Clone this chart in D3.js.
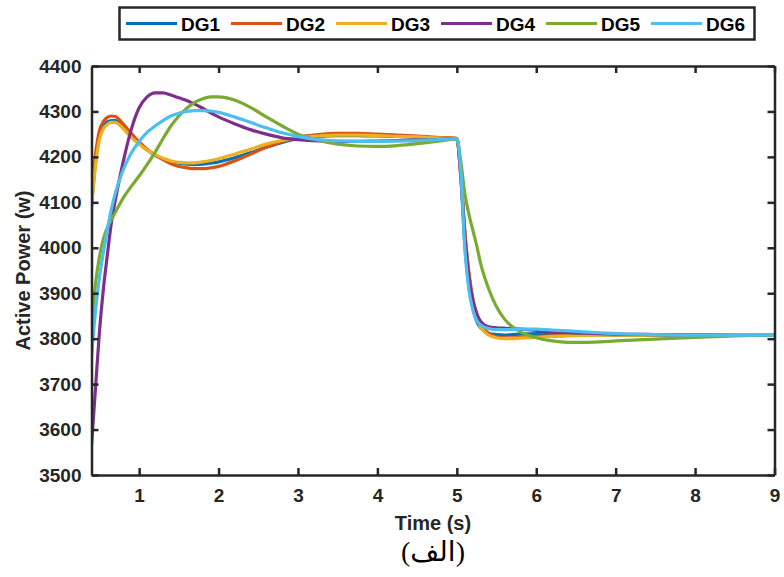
<!DOCTYPE html>
<html>
<head>
<meta charset="utf-8">
<script src="https://cdn.jsdelivr.net/npm/d3@7"></script>
<style>
  body { margin: 0; background: #fff; }
  svg { display: block; }
</style>
</head>
<body>
<div id="mainDiv"></div>
<script>
'use strict';

// time samples (s)
var time = [0.4, 0.45, 0.5, 0.55, 0.6, 0.65, 0.7, 0.8, 0.9, 1.0, 1.1, 1.2, 1.3, 1.4, 1.5, 1.6, 1.7, 1.8, 1.9, 2.0,
            2.2, 2.4, 2.6, 2.8, 3.0, 3.25, 3.5, 3.75, 4.0, 4.25, 4.5, 4.75, 5.0,
            5.05, 5.1, 5.15, 5.2, 5.25, 5.3, 5.4, 5.5, 5.6, 5.7, 5.8, 6.0, 6.2, 6.4, 6.6, 6.8, 7.0, 7.5, 8.0, 8.5, 9.0];

var dg1 = [4090, 4188, 4245, 4268, 4277, 4280, 4280, 4266, 4247, 4230, 4215, 4204, 4196, 4190, 4186, 4184, 4183, 4184, 4186, 4189,
           4198, 4209, 4221, 4232, 4240, 4245, 4247, 4247, 4246, 4245, 4243, 4242, 4240,
           4155, 4010, 3920, 3868, 3838, 3824, 3812, 3809, 3808, 3809, 3810, 3811, 3811, 3810, 3809, 3809, 3808, 3808, 3808, 3808, 3808];

var dg2 = [4115, 4205, 4258, 4278, 4287, 4290, 4289, 4272, 4252, 4233, 4217, 4204, 4194, 4185, 4179, 4176, 4174, 4174, 4176, 4179,
           4191, 4206, 4221, 4234, 4243, 4249, 4252, 4252, 4250, 4248, 4246, 4243, 4241,
           4165, 4040, 3950, 3890, 3855, 3832, 3812, 3804, 3802, 3802, 3803, 3805, 3806, 3807, 3808, 3809, 3809, 3809, 3808, 3808, 3808];

var dg3 = [4088, 4180, 4238, 4262, 4272, 4276, 4276, 4262, 4243, 4228, 4215, 4205, 4197, 4191, 4188, 4187, 4187, 4189, 4192, 4196,
           4206, 4217, 4228, 4236, 4242, 4246, 4248, 4248, 4247, 4245, 4244, 4242, 4240,
           4160, 4030, 3940, 3880, 3845, 3825, 3808, 3802, 3800, 3800, 3801, 3803, 3805, 3806, 3807, 3808, 3808, 3808, 3808, 3808, 3808];

var dg4 = [3565, 3690, 3815, 3910, 3985, 4055, 4105, 4190, 4260, 4308, 4332, 4341, 4341, 4336, 4330, 4324, 4316, 4307, 4297, 4288,
           4273, 4260, 4250, 4242, 4238, 4235, 4234, 4234, 4235, 4236, 4237, 4238, 4240,
           4160, 4030, 3940, 3885, 3855, 3838, 3826, 3824, 3823, 3822, 3821, 3818, 3815, 3813, 3812, 3811, 3810, 3809, 3808, 3807, 3807];

var dg5 = [3815, 3920, 3980, 4020, 4045, 4062, 4078, 4110, 4135, 4158, 4183, 4210, 4240, 4268, 4290, 4307, 4320, 4328, 4332, 4332,
           4325, 4309, 4288, 4268, 4250, 4237, 4228, 4224, 4223, 4225, 4229, 4234, 4239,
           4190, 4120, 4075, 4040, 4005, 3965, 3910, 3870, 3843, 3826, 3815, 3802, 3795, 3792, 3792, 3793, 3795, 3799, 3803, 3806, 3808];

var dg6 = [3760, 3860, 3935, 3990, 4040, 4085, 4120, 4172, 4208, 4234, 4254, 4268, 4280, 4290, 4296, 4300, 4302, 4302, 4301, 4298,
           4288, 4276, 4264, 4253, 4245, 4238, 4235, 4234, 4234, 4235, 4236, 4238, 4240,
           4170, 4000, 3910, 3865, 3840, 3830, 3822, 3820, 3820, 3820, 3821, 3821, 3819, 3817, 3815, 3813, 3811, 3809, 3808, 3808, 3808];

var seriesNames = ['DG1', 'DG2', 'DG3', 'DG4', 'DG5', 'DG6'];
var seriesData  = [dg1, dg2, dg3, dg4, dg5, dg6];
var seriesColors = ['#0072BD', '#D95319', '#EDB120', '#7E2F8E', '#77AC30', '#4DBEEE'];

var xTicks = [1, 2, 3, 4, 5, 6, 7, 8, 9];
var yTicks = [3500, 3600, 3700, 3800, 3900, 4000, 4100, 4200, 4300, 4400];

var chart = {};

chart.box = { left: 91.5, right: 774.5, top: 66, bottom: 475 };
chart.axisColor = '#262626';
chart.font = "'Liberation Sans', Arial, Helvetica, sans-serif";

chart.run = function()
{
    var svg = d3.select('#mainDiv').append('svg')
        .attr('width', 784)
        .attr('height', 577);

    var b = chart.box;
    var x = d3.scaleLinear().domain([0.4, 9]).range([b.left, b.right]);
    var y = d3.scaleLinear().domain([3500, 4400]).range([b.bottom, b.top]);

    // lines
    var line = d3.line()
        .x(function(d) { return x(d[0]); })
        .y(function(d) { return y(d[1]); })
        .curve(d3.curveMonotoneX);

    var plot = svg.append('g');
    plot.append('clipPath').attr('id', 'clip')
        .append('rect')
        .attr('x', b.left).attr('y', b.top)
        .attr('width', b.right - b.left).attr('height', b.bottom - b.top);

    seriesData.forEach(function(vals, i) {
        var pts = time.map(function(t, k) { return [t, vals[k]]; });
        plot.append('path')
            .attr('clip-path', 'url(#clip)')
            .attr('d', line(pts))
            .attr('fill', 'none')
            .attr('stroke', seriesColors[i])
            .attr('stroke-width', 3.2)
            .attr('stroke-linejoin', 'round');
    });

    // axes: ticks pointing inward, box all round
    var tick = 7;
    var bottom = svg.append('g')
        .attr('transform', 'translate(0,' + b.bottom + ')')
        .call(d3.axisBottom(x).tickValues(xTicks).tickSizeInner(-tick).tickSizeOuter(0).tickPadding(14).tickFormat(d3.format('d')));
    var top = svg.append('g')
        .attr('transform', 'translate(0,' + b.top + ')')
        .call(d3.axisTop(x).tickValues(xTicks).tickSizeInner(-tick).tickSizeOuter(0).tickFormat(''));
    var left = svg.append('g')
        .attr('transform', 'translate(' + b.left + ',0)')
        .call(d3.axisLeft(y).tickValues(yTicks).tickSizeInner(-tick).tickSizeOuter(0).tickPadding(10).tickFormat(d3.format('d')));
    var right = svg.append('g')
        .attr('transform', 'translate(' + b.right + ',0)')
        .call(d3.axisRight(y).tickValues(yTicks).tickSizeInner(-tick).tickSizeOuter(0).tickFormat(''));

    [bottom, top, left, right].forEach(function(g) {
        g.select('.domain').attr('stroke', chart.axisColor).attr('stroke-width', 2.5);
        g.selectAll('.tick line').attr('stroke', chart.axisColor).attr('stroke-width', 2.5);
        g.selectAll('.tick text')
            .attr('fill', chart.axisColor)
            .attr('font-family', chart.font)
            .attr('font-weight', 'bold')
            .attr('font-size', 19);
    });

    // axis titles
    svg.append('text')
        .attr('x', (b.left + b.right) / 2)
        .attr('y', 530)
        .attr('text-anchor', 'middle')
        .attr('font-family', chart.font)
        .attr('font-weight', 'bold')
        .attr('font-size', 20)
        .attr('fill', chart.axisColor)
        .text('Time (s)');

    svg.append('text')
        .attr('transform', 'translate(30,' + ((b.top + b.bottom) / 2) + ') rotate(-90)')
        .attr('text-anchor', 'middle')
        .attr('font-family', chart.font)
        .attr('font-weight', 'bold')
        .attr('font-size', 20)
        .attr('fill', chart.axisColor)
        .text('Active Power (w)');

    svg.append('text')
        .attr('x', (b.left + b.right) / 2)
        .attr('y', 561)
        .attr('text-anchor', 'middle')
        .attr('font-family', "'Liberation Serif', 'DejaVu Sans', serif")
        .attr('font-size', 28)
        .attr('fill', '#000')
        .text('(الف)');

    chart.legend(svg);
}

chart.legend = function(svg)
{
    var lg = svg.append('g');
    lg.append('rect')
        .attr('x', 119.5).attr('y', 7.5)
        .attr('width', 635).attr('height', 32)
        .attr('fill', '#fff')
        .attr('stroke', chart.axisColor)
        .attr('stroke-width', 2.5);

    seriesNames.forEach(function(name, i) {
        var x0 = 126 + 105 * i;
        lg.append('line')
            .attr('x1', x0).attr('x2', x0 + 51)
            .attr('y1', 23.5).attr('y2', 23.5)
            .attr('stroke', seriesColors[i])
            .attr('stroke-width', 3);
        lg.append('text')
            .attr('x', x0 + 55)
            .attr('y', 30.5)
            .attr('font-family', chart.font)
            .attr('font-weight', 'bold')
            .attr('font-size', 19)
            .attr('fill', '#000')
            .text(name);
    });
}

window.onload = function() {
    chart.run();
};
</script>
</body>
</html>
